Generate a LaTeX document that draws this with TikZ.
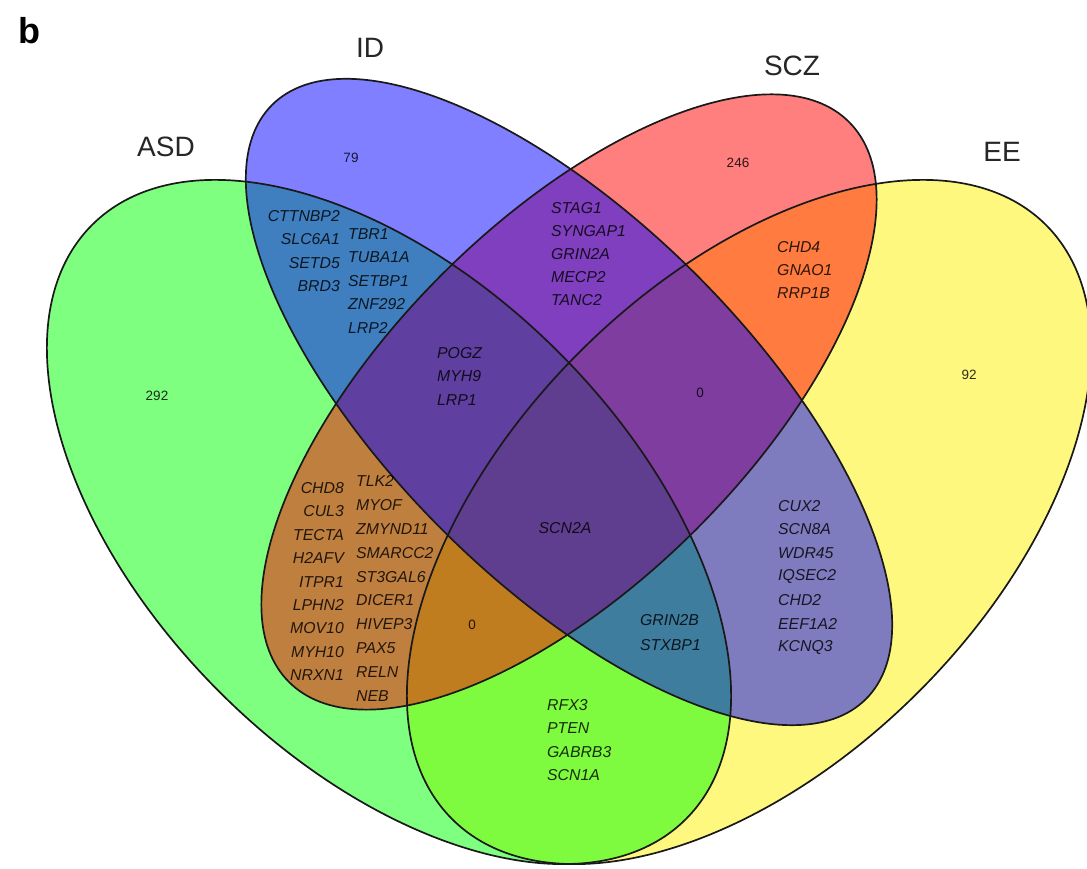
\documentclass[tikz,border=0pt]{standalone}
\usepackage{fontspec}
\setmainfont{Liberation Sans}
\begin{document}
\begin{tikzpicture}[x=1pt,y=1pt,
  setfill/.style={fill opacity=0.5},
  outline/.style={draw=black!90, line width=1.7pt},
  gene/.style={font=\fontsize{15.8}{18}\selectfont\itshape, inner sep=0pt, text opacity=0.82},
  num/.style={font=\fontsize{13.5}{15}\selectfont, inner sep=0pt, text opacity=0.82},
  setlabel/.style={font=\fontsize{28}{32}\selectfont, inner sep=0pt, text=black!85}]
\useasboundingbox (0,0) rectangle (1087,869);
\clip (0,0) rectangle (1087,869);
\fill[white] (0,0) rectangle (1087,869);
% set fills (drawing order gives the blended colours)
\fill[yellow, setfill, rotate around={45:(749,347)}] (749,347) ellipse [x radius=420, y radius=240];
\fill[green, setfill, rotate around={135:(389,347)}] (389,347) ellipse [x radius=420, y radius=240];
\fill[red, setfill, rotate around={45:(569,467)}] (569,467) ellipse [x radius=396, y radius=180];
\fill[blue, setfill, rotate around={135:(569,467)}] (569,467) ellipse [x radius=420, y radius=180];
% outlines
\draw[outline, rotate around={45:(749,347)}] (749,347) ellipse [x radius=420, y radius=240];
\draw[outline, rotate around={135:(389,347)}] (389,347) ellipse [x radius=420, y radius=240];
\draw[outline, rotate around={45:(569,467)}] (569,467) ellipse [x radius=396, y radius=180];
\draw[outline, rotate around={135:(569,467)}] (569,467) ellipse [x radius=420, y radius=180];
% panel letter and set labels
\node[font=\fontsize{36}{40}\selectfont\bfseries, inner sep=0pt] (panel) at (29,838) {b};
\node[setlabel] (labID) at (370,821) {ID};
\node[setlabel] (labSCZ) at (792,803) {SCZ};
\node[setlabel] (labASD) at (166,722) {ASD};
\node[setlabel] (labEE) at (1002,717) {EE};
% counts
\node[num] (nID) at (351,711) {79};
\node[num] (nSCZ) at (738,706) {246};
\node[num] (nASD) at (157,473) {292};
\node[num] (nEE) at (969,494) {92};
\node[num] (nIDSCZEE) at (700,476) {0};
\node[num] (nASDSCZEE) at (472,244) {0};
\node[gene] (all) at (565,341) {SCN2A};
% ASD & ID
\foreach \g [count=\i] in {CTTNBP2,SLC6A1,SETD5,BRD3}
  \node[gene, anchor=east] (ai-l-\i) at (340,{653-23.5*(\i-1)}) {\g};
\foreach \g [count=\i] in {TBR1,TUBA1A,SETBP1,ZNF292,LRP2}
  \node[gene, anchor=west] (ai-r-\i) at (348,{635-23.5*(\i-1)}) {\g};
% ASD & SCZ
\foreach \g [count=\i] in {CHD8,CUL3,TECTA,H2AFV,ITPR1,LPHN2,MOV10,MYH10,NRXN1}
  \node[gene, anchor=east] (as-l-\i) at (344,{381-23.4*(\i-1)}) {\g};
\foreach \g [count=\i] in {TLK2,MYOF,ZMYND11,SMARCC2,ST3GAL6,DICER1,HIVEP3,PAX5,RELN,NEB}
  \node[gene, anchor=west] (as-r-\i) at (356,{388-23.9*(\i-1)}) {\g};
% ID & SCZ
\foreach \g [count=\i] in {STAG1,SYNGAP1,GRIN2A,MECP2,TANC2}
  \node[gene, anchor=west] (is-\i) at (551,{661-23*(\i-1)}) {\g};
% SCZ & EE
\foreach \g [count=\i] in {CHD4,GNAO1,RRP1B}
  \node[gene, anchor=west] (se-\i) at (777,{622-23*(\i-1)}) {\g};
% ASD & ID & SCZ
\foreach \g [count=\i] in {POGZ,MYH9,LRP1}
  \node[gene, anchor=west] (ais-\i) at (437,{516-23.5*(\i-1)}) {\g};
% ASD & ID & EE
\foreach \g [count=\i] in {GRIN2B,STXBP1}
  \node[gene, anchor=west] (aie-\i) at (640,{249-25*(\i-1)}) {\g};
% ID & EE
\foreach \g [count=\i] in {CUX2,SCN8A,WDR45,IQSEC2,CHD2,EEF1A2,KCNQ3}
  \node[gene, anchor=west] (ie-\i) at (778,{363-23.5*(\i-1)}) {\g};
% ASD & EE
\foreach \g [count=\i] in {RFX3,PTEN,GABRB3,SCN1A}
  \node[gene, anchor=west] (ae-\i) at (547,{164-23.3*(\i-1)}) {\g};
\end{tikzpicture}
\end{document}
